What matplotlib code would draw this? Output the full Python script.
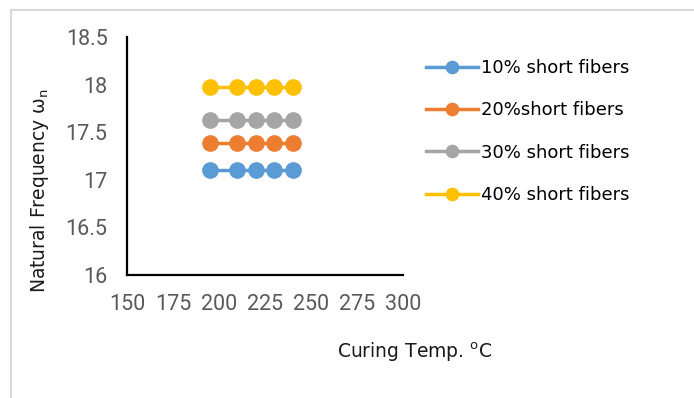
import matplotlib.pyplot as plt
from matplotlib.lines import Line2D

temps = [195, 210, 220, 230, 240]
freq_10 = [17.1, 17.1, 17.1, 17.1, 17.1]
freq_20 = [17.39, 17.39, 17.39, 17.39, 17.39]
freq_30 = [17.63, 17.63, 17.63, 17.63, 17.63]
freq_40 = [17.98, 17.98, 17.98, 17.98, 17.98]
labels = ['10% short fibers', '20%short fibers', '30% short fibers', '40% short fibers']
colors = ['#5B9BD5', '#ED7D31', '#A5A5A5', '#FFC000']

fig = plt.figure(figsize=(6.94, 3.98), dpi=100)
ax = fig.add_axes([0.183, 0.309, 0.398, 0.597])

# chart area frame (left and top edges only)
fig.add_artist(Line2D([11/694, 11/694], [0, 1 - 10/398], color='#D9D9D9', lw=1.5))
fig.add_artist(Line2D([11/694, 1], [1 - 10/398, 1 - 10/398], color='#D9D9D9', lw=1.5))

series = [freq_10, freq_20, freq_30, freq_40]
for vals, lab, c in zip(series, labels, colors):
    ax.plot(temps, vals, color=c, lw=2.5, marker='o', markersize=11, label=lab)

ax.set_xlim(150, 300)
ax.set_ylim(16, 18.5)
ax.set_xticks([150, 175, 200, 225, 250, 275, 300])
ax.set_yticks([16, 16.5, 17, 17.5, 18, 18.5])
ax.set_yticklabels(['16', '16.5', '17', '17.5', '18', '18.5'])
ax.tick_params(length=0, labelsize=15.5, labelcolor='#595959', pad=14)
for lbl in ax.get_xticklabels() + ax.get_yticklabels():
    lbl.set_family('Roboto')
for side in ['top', 'right']:
    ax.spines[side].set_visible(False)
for side in ['left', 'bottom']:
    ax.spines[side].set_linewidth(1.6)
    ax.spines[side].set_color('black')

fig.text(0.597, 0.115, 'Curing Temp. $^{\\mathrm{o}}$C', fontsize=13.5, ha='center', va='center',
         color='#1a1a1a')
fig.text(0.057, 0.52, 'Natural Frequency ω$_{\\mathrm{n}}$', fontsize=13.5,
         rotation=90, ha='center', va='center', color='#1a1a1a')

fig.legend(loc='upper left', bbox_to_anchor=(0.59, 0.893), frameon=False, fontsize=13,
           handlelength=2.9, handletextpad=0.15, labelspacing=1.35, markerscale=0.8)

fig.savefig('out.png', dpi=100)
